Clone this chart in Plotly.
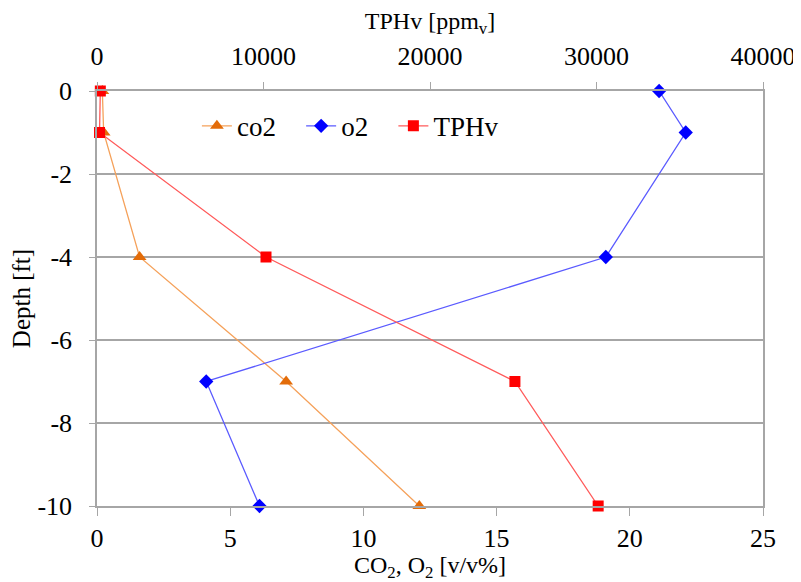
import plotly.graph_objects as go

depth = [0, -1, -4, -7, -10]
co2 = [0.2, 0.25, 1.6, 7.1, 12.1]
o2 = [21.1, 22.1, 19.1, 4.1, 6.1]
tphv = [200, 150, 10150, 25100, 30100]

x_ticks = [0, 5, 10, 15, 20, 25]
x2_ticks = [0, 10000, 20000, 30000, 40000]
x2_labels = ["0", "10000", "20000", "30000", "40000"]
y_ticks = [0, -2, -4, -6, -8, -10]
y_labels = ["0", "-2", "-4", "-6", "-8", "-10"]

font = "Liberation Serif, Times New Roman, serif"
grid = "#A6A6A6"
pad = "\u00a0\u00a0\u00a0"

fig = go.Figure()
fig.add_trace(go.Scatter(x=co2, y=depth, name="co2" + pad, mode="lines+markers",
                         line=dict(color="#F5A15A", width=1.3),
                         marker=dict(symbol="triangle-up", size=12, color="#E36C09"),
                         cliponaxis=False))
fig.add_trace(go.Scatter(x=o2, y=depth, name="o2" + pad, mode="lines+markers",
                         line=dict(color="#5A5AFF", width=1.3),
                         marker=dict(symbol="diamond", size=11, color="#0000FF"),
                         cliponaxis=False))
fig.add_trace(go.Scatter(x=tphv, y=depth, name="TPHv", mode="lines+markers",
                         xaxis="x2",
                         line=dict(color="#FF5A5A", width=1.3),
                         marker=dict(symbol="square", size=11, color="#FF0000"),
                         cliponaxis=False))

fig.update_layout(
    width=793, height=574,
    margin=dict(l=89, r=38, t=83, b=76, autoexpand=False),
    paper_bgcolor="white", plot_bgcolor="white",
    font=dict(family=font, size=25, color="black"),
    showlegend=True,
    legend=dict(orientation="h", x=0.15, y=0.915, xanchor="left", yanchor="middle",
                font=dict(family=font, size=27), bgcolor="rgba(0,0,0,0)",
                itemwidth=30, tracegroupgap=0),
    xaxis=dict(range=[0, 25], tickvals=x_ticks, showgrid=False, zeroline=False,
               showline=True, linecolor=grid, linewidth=1.5, mirror=False,
               ticks="outside", ticklen=8, tickcolor=grid, automargin=False,
               title=dict(text="CO<sub>2</sub>, O<sub>2</sub> [v/v%]", standoff=0,
                          font=dict(family=font, size=24)),
               tickfont=dict(family=font, size=26)),
    xaxis2=dict(range=[0, 40000], tickvals=x2_ticks, ticktext=x2_labels,
                overlaying="x", side="top", automargin=False,
                showgrid=False, zeroline=False, showline=True, linecolor=grid, linewidth=1.5,
                ticks="outside", ticklen=7, tickcolor=grid, ticklabelstandoff=7,
                title=dict(text="TPHv [ppm<sub>v</sub>]", standoff=11,
                           font=dict(family=font, size=24)),
                tickfont=dict(family=font, size=26)),
    yaxis=dict(range=[-10, 0], tickvals=y_ticks, ticktext=y_labels, automargin=False,
               showgrid=True, gridcolor=grid, gridwidth=1.5,
               zeroline=False, showline=True, linecolor=grid, linewidth=1.5, mirror=True,
               ticks="outside", ticklen=6, tickcolor=grid, ticklabelstandoff=12,
               title=dict(text="Depth [ft]", standoff=0, font=dict(family=font, size=25)),
               tickfont=dict(family=font, size=26)),
)

fig.write_html("out.html")
